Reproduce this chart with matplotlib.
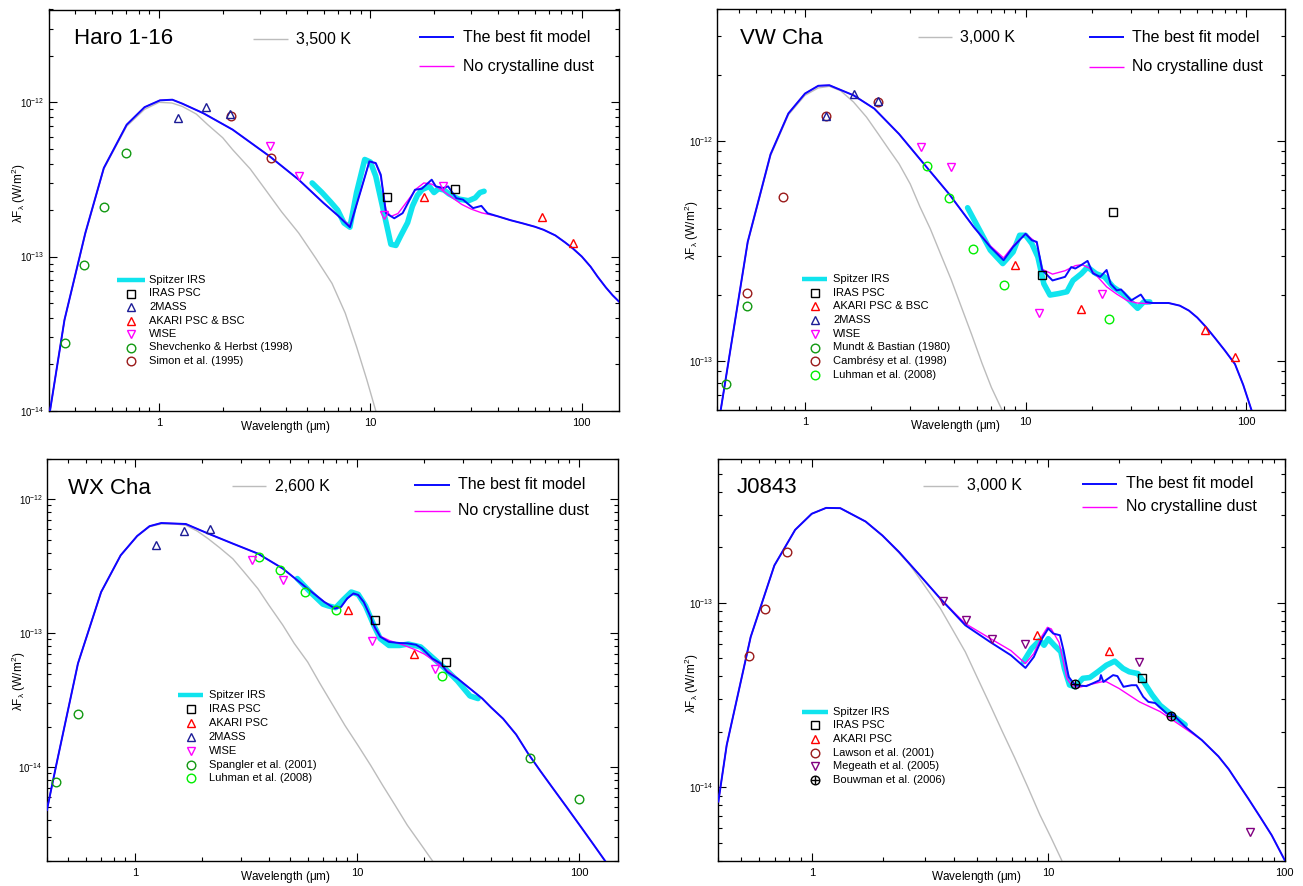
import numpy as np
import matplotlib
matplotlib.use('Agg')
import matplotlib.pyplot as plt
from matplotlib.lines import Line2D
from matplotlib.ticker import NullFormatter, FuncFormatter, LogFormatterSciNotation, FixedLocator, LogLocator

plt.rcParams['font.family'] = ['Liberation Sans', 'DejaVu Sans']
plt.rcParams['mathtext.fontset'] = 'custom'
plt.rcParams['mathtext.rm'] = 'Liberation Sans'
plt.rcParams['mathtext.it'] = 'Liberation Sans:italic'
plt.rcParams['mathtext.default'] = 'regular'

# ------------------------------------------------------------------ DATA
# ---- Haro 1-16 (flux in units of 1e-13 W/m^2)
haro_model_wl = [0.305, 0.357, 0.448, 0.548, 0.703, 0.854, 1.01, 1.156, 1.29, 1.62, 2.23, 3.34, 4.58, 6.01, 7.0, 8.0,
                 9.03, 9.89, 10.6, 11.2, 11.85, 12.97, 14.2, 16.25, 17.5, 19.5, 20.4, 22.1, 23.3, 25.5, 27.4, 30.6,
                 33.5, 35.8, 40.2, 46, 52.6, 60, 66, 75, 83, 90.6, 100, 110, 118.8, 130, 140, 150]
haro_model_f = [0.10, 0.388, 1.42, 3.75, 7.16, 9.3, 10.3, 10.4, 9.8, 8.5, 6.65, 4.46, 3.15, 2.22, 1.85, 1.55,
                2.71, 4.14, 4.04, 3.39, 1.91, 1.77, 1.91, 2.71, 2.75, 3.15, 2.85, 2.78, 2.85, 2.39, 2.34, 2.06,
                2.13, 1.91, 1.82, 1.72, 1.64, 1.56, 1.49, 1.37, 1.24, 1.13, 1.0, 0.86, 0.74, 0.63, 0.56, 0.51]
haro_nocryst_wl = [0.305, 0.357, 0.448, 0.548, 0.703, 0.854, 1.01, 1.156, 1.29, 1.62, 2.23, 3.34, 4.58, 6.01, 7.0,
                   8.0, 9.03, 9.89, 10.6, 11.2, 11.85, 12.5, 13.5, 15.0, 16.5, 17.9, 19.5, 21.0, 24.0, 27.0, 30.0,
                   33.6, 36.0, 40.2, 46, 52.6, 60, 66, 75, 83, 90.6, 100, 110, 118.8, 130, 140, 150]
haro_nocryst_f = [0.10, 0.388, 1.42, 3.75, 7.16, 9.3, 10.3, 10.4, 9.8, 8.5, 6.65, 4.46, 3.15, 2.22, 1.85,
                  1.58, 2.71, 4.14, 4.0, 3.3, 2.0, 1.82, 1.9, 2.3, 2.75, 3.0, 2.95, 2.79, 2.45, 2.18, 2.03,
                  1.92, 1.88, 1.82, 1.72, 1.64, 1.56, 1.49, 1.37, 1.24, 1.13, 1.0, 0.86, 0.74, 0.63, 0.56, 0.51]
haro_irs_wl = [5.3, 5.9, 6.5, 7.0, 7.5, 8.0, 8.6, 9.4, 10.0, 10.6, 11.4, 12.0, 12.5, 13.2, 13.9, 15.0, 15.8, 16.7,
               17.6, 19.0, 20.0, 21.0, 22.3, 23.5, 26.1, 29.1, 31.3, 33.0, 34.5]
haro_irs_f = [3.0, 2.6, 2.25, 2.0, 1.65, 1.55, 2.6, 4.26, 4.1, 3.32, 2.12, 1.55, 1.2, 1.18, 1.36, 1.66, 2.12, 2.5,
              2.72, 2.85, 2.6, 2.75, 2.7, 2.55, 2.36, 2.3, 2.4, 2.6, 2.65]
haro_bb_wl = [0.305, 0.357, 0.448, 0.548, 0.703, 0.854, 1.0, 1.15, 1.29, 1.5, 1.70, 2.0, 2.23, 2.7, 3.19, 3.8, 4.58,
              5.5, 6.58, 7.6, 8.6, 9.6, 10.6]
haro_bb_f = [0.10, 0.385, 1.40, 3.7, 7.0, 9.0, 10.0, 9.9, 9.4, 8.4, 7.16, 5.9, 4.93, 3.7, 2.71, 1.95, 1.42,
             0.98, 0.67, 0.43, 0.26, 0.16, 0.10]
haro_2mass_wl, haro_2mass_f = [1.236, 1.667, 2.176], [7.91, 9.33, 8.4]
haro_simon_wl, haro_simon_f = [2.19, 3.39], [8.2, 4.35]
haro_wise_wl, haro_wise_f = [3.36, 4.58, 11.58, 22.1], [5.18, 3.31, 1.87, 2.85]
haro_iras_wl, haro_iras_f = [12.0, 25.1], [2.45, 2.75]
haro_akari_wl, haro_akari_f = [17.9, 65.1, 90.5], [2.45, 1.8, 1.22]
haro_shev_wl, haro_shev_f = [0.36, 0.44, 0.551, 0.70], [0.274, 0.883, 2.09, 4.66]

# ---- VW Cha (units of 1e-13 W/m^2)
vw_model_wl = [0.415, 0.55, 0.698, 0.841, 1.0, 1.149, 1.29, 1.66, 2.06, 2.67, 3.46, 4.49, 5.82, 6.92, 7.95, 8.78,
               10.0, 10.67, 11.24, 11.89, 13.25, 15.1, 16.1, 16.8, 17.9, 19.1, 20.2, 21.8, 23.3, 24.3, 25.9, 27.1,
               30.1, 33.3, 35.1, 37.4, 44.5, 50, 55, 60, 65.8, 72, 80, 89, 97, 105.7]
vw_model_f = [0.60, 3.49, 8.73, 13.4, 16.5, 17.9, 18.0, 16.2, 14.1, 10.8, 7.9, 5.78, 4.08, 3.31, 2.88, 3.31,
              3.8, 3.55, 3.49, 2.6, 2.33, 2.42, 2.68, 2.64, 2.74, 2.86, 2.51, 2.42, 2.60, 2.25, 2.1, 2.12,
              1.89, 2.01, 1.86, 1.84, 1.84, 1.79, 1.70, 1.58, 1.43, 1.28, 1.12, 0.97, 0.78, 0.60]
vw_nocryst_wl = [0.415, 0.55, 0.698, 0.841, 1.0, 1.149, 1.29, 1.66, 2.06, 2.67, 3.46, 4.49, 5.82, 6.92, 7.95, 8.78,
                 10.0, 10.67, 11.24, 11.89, 13.25, 15.1, 16.8, 18.0, 19.5, 21.0, 23.3, 25.9, 28.8, 32.0, 35.6, 37.4,
                 44.5, 50, 55, 60, 65.8, 72, 80, 89, 97, 105.7]
vw_nocryst_f = [0.60, 3.49, 8.73, 13.4, 16.5, 17.9, 18.0, 16.2, 14.1, 10.8, 7.9, 5.78, 4.08, 3.35, 2.95, 3.35,
                3.8, 3.6, 3.45, 2.62, 2.49, 2.58, 2.72, 2.75, 2.65, 2.45, 2.18, 2.02, 1.89, 1.84, 1.83, 1.84,
                1.84, 1.79, 1.70, 1.58, 1.43, 1.28, 1.12, 0.97, 0.78, 0.60]
vw_irs_wl = [5.46, 6.08, 6.92, 7.88, 8.78, 9.4, 10.0, 10.67, 11.37, 12.1, 12.9, 14.1, 15.4, 16.4, 17.9, 19.1, 20.9,
             22.8, 24.9, 27.6, 30.1, 32.2, 34.3, 36.6]
vw_irs_f = [4.99, 4.08, 3.2, 2.78, 3.14, 3.74, 3.74, 3.43, 2.98, 2.25, 2.0, 2.03, 2.07, 2.33, 2.5, 2.68, 2.5,
            2.42, 2.18, 2.03, 1.86, 1.74, 1.86, 1.86]
vw_bb_wl = [0.415, 0.55, 0.698, 0.841, 1.0, 1.149, 1.29, 1.45, 1.66, 1.9, 2.15, 2.4, 2.67, 3.0, 3.32, 3.7, 4.11,
            4.6, 5.11, 5.7, 6.35, 7.0, 7.82]
vw_bb_f = [0.60, 3.45, 8.6, 13.2, 16.2, 17.5, 17.8, 17.0, 15.1, 12.9, 10.8, 9.2, 7.9, 6.4, 5.04, 4.0, 3.09,
           2.35, 1.77, 1.32, 0.977, 0.76, 0.60]
vw_2mass_wl, vw_2mass_f = [1.24, 1.66, 2.15], [13.0, 16.4, 15.3]
vw_cambresy_wl, vw_cambresy_f = [0.548, 0.795, 1.25, 2.15], [2.05, 5.58, 13.1, 15.1]
vw_mundt_wl, vw_mundt_f = [0.438, 0.548], [0.785, 1.79]
vw_luhman_wl, vw_luhman_f = [3.58, 4.49, 5.77, 7.95, 23.9], [7.73, 5.55, 3.23, 2.23, 1.56]
vw_wise_wl, vw_wise_f = [3.34, 4.61, 11.5, 22.1], [9.42, 7.64, 1.66, 2.03]
vw_akari_wl, vw_akari_f = [8.97, 17.9, 64.9, 89.0], [2.73, 1.72, 1.39, 1.04]
vw_iras_wl, vw_iras_f = [11.9, 24.9], [2.48, 4.77]

# ---- WX Cha (units of 1e-13 W/m^2)
wx_model_wl = [0.40, 0.441, 0.552, 0.702, 0.86, 1.02, 1.16, 1.31, 1.69, 2.13, 2.75, 3.57, 4.62, 5.98, 7.11, 7.93,
               8.45, 9.02, 9.62, 10.1, 10.7, 11.4, 12.0, 12.7, 13.9, 15.5, 16.8, 18.4, 19.6, 21.8, 23.8, 25.4,
               28.3, 32.2, 36.6, 40, 45.4, 52, 58.9, 67, 76.2, 88, 103, 116, 130.6]
wx_model_f = [0.0478, 0.104, 0.594, 2.03, 3.82, 5.32, 6.3, 6.65, 6.54, 5.55, 4.67, 3.93, 3.04, 2.15, 1.71, 1.53,
              1.57, 1.82, 1.98, 1.93, 1.71, 1.36, 1.11, 0.94, 0.861, 0.845, 0.84, 0.82, 0.77, 0.647, 0.594, 0.514,
              0.459, 0.386, 0.325, 0.28, 0.23, 0.175, 0.126, 0.093, 0.0693, 0.050, 0.0348, 0.0264, 0.020]
wx_nocryst_wl = [0.40, 0.441, 0.552, 0.702, 0.86, 1.02, 1.16, 1.31, 1.69, 2.13, 2.75, 3.57, 4.62, 5.98, 7.11, 7.93,
                 8.45, 9.02, 9.62, 10.1, 10.7, 11.4, 12.0, 12.7, 14.0, 16.0, 18.0, 20.0, 22.0, 25.0, 28.3, 32.2,
                 36.6, 40, 45.4, 52, 58.9, 67, 76.2, 88, 103, 116, 130.6]
wx_nocryst_f = [0.0478, 0.104, 0.594, 2.03, 3.82, 5.32, 6.3, 6.65, 6.54, 5.55, 4.67, 3.93, 3.04, 2.15, 1.71, 1.53,
                1.57, 1.82, 1.98, 1.93, 1.71, 1.36, 1.08, 0.95, 0.88, 0.82, 0.76, 0.70, 0.63, 0.54, 0.46, 0.386,
                0.325, 0.28, 0.23, 0.175, 0.126, 0.093, 0.0693, 0.050, 0.0348, 0.0264, 0.020]
wx_irs_wl = [5.37, 6.2, 7.0, 7.4, 8.0, 8.6, 9.4, 10.1, 10.9, 11.9, 12.7, 13.9, 15.5, 17.0, 19.3, 21.8, 25.0, 28.3,
             32.2, 35.0]
wx_irs_f = [2.56, 2.0, 1.65, 1.6, 1.55, 1.76, 2.03, 1.95, 1.6, 1.14, 0.91, 0.81, 0.81, 0.83, 0.79, 0.66, 0.54, 0.44,
            0.34, 0.325]
wx_bb_wl = [0.40, 0.441, 0.552, 0.702, 0.86, 1.02, 1.16, 1.31, 1.5, 1.69, 1.9, 2.13, 2.4, 2.75, 3.1, 3.57, 4.0,
            4.62, 5.2, 5.98, 6.8, 7.77, 8.8, 10.06, 11.5, 13.0, 14.8, 16.8, 19.2, 21.8]
wx_bb_f = [0.0478, 0.104, 0.594, 2.03, 3.82, 5.3, 6.25, 6.55, 6.55, 6.4, 5.8, 5.08, 4.35, 3.6, 2.85, 2.15, 1.62,
           1.15, 0.84, 0.61, 0.42, 0.29, 0.205, 0.146, 0.103, 0.0734, 0.052, 0.0369, 0.027, 0.020]
wx_2mass_wl, wx_2mass_f = [1.235, 1.66, 2.17], [4.54, 5.77, 6.04]
wx_wise_wl, wx_wise_f = [3.35, 4.62, 11.7, 22.3], [3.51, 2.49, 0.877, 0.545]
wx_luhman_wl, wx_luhman_f = [3.6, 4.49, 5.81, 8.0, 24.0], [3.71, 2.98, 2.03, 1.49, 0.481]
wx_spangler_wl, wx_spangler_f = [0.441, 0.552, 60.1, 100], [0.0769, 0.25, 0.116, 0.0577]
wx_akari_wl, wx_akari_f = [9.06, 18.1], [1.49, 0.705]
wx_iras_wl, wx_iras_f = [12.0, 25.0], [1.25, 0.61]

# ---- J0843 (units of 1e-14 W/m^2)
j_model_wl = [0.403, 0.437, 0.552, 0.695, 0.851, 1.0, 1.15, 1.32, 1.69, 1.99, 2.34, 2.86, 3.50, 4.46, 5.68, 6.95,
              8.01, 8.69, 9.41, 10.0, 10.5, 11.2, 11.6, 12.2, 13.0, 14.5, 16.5, 16.7, 17.1, 18.8, 19.6, 20.8,
              22.5, 23.6, 25.2, 26.5, 28.3, 31.7, 33.8, 37.9, 44.6, 52.4, 58, 64.1, 70, 78.5, 88, 100]
j_model_f = [0.837, 1.69, 6.52, 15.9, 24.8, 30.3, 32.6, 32.5, 27.5, 23.1, 18.8, 14.1, 10.5, 7.54, 6.12, 5.19,
             4.43, 5.08, 6.38, 7.24, 6.8, 6.66, 5.52, 3.96, 3.57, 3.53, 3.8, 4.05, 3.72, 4.05, 4.0, 3.5,
             3.57, 3.57, 3.09, 2.9, 2.86, 2.51, 2.47, 2.13, 1.8, 1.47, 1.25, 1.03, 0.87, 0.693, 0.55, 0.402]
j_nocryst_wl = [0.403, 0.437, 0.552, 0.695, 0.851, 1.0, 1.15, 1.32, 1.69, 1.99, 2.34, 2.86, 3.50, 4.46, 5.68, 6.95,
                8.01, 8.69, 9.41, 9.92, 10.3, 11.1, 11.5, 12.0, 12.5, 13.3, 15.0, 16.9, 17.6, 19.9, 24.3, 29.7,
                37.9, 44.6, 52.4, 58, 64.1, 70, 78.5, 88, 100]
j_nocryst_f = [0.837, 1.69, 6.52, 15.9, 24.8, 30.3, 32.6, 32.5, 27.5, 23.1, 18.8, 14.1, 10.5, 7.7, 6.4, 5.5,
               4.68, 5.3, 6.6, 7.35, 7.2, 6.1, 5.0, 3.88, 3.6, 3.46, 3.6, 3.73, 3.73, 3.43, 2.9, 2.57,
               2.08, 1.8, 1.47, 1.25, 1.03, 0.87, 0.693, 0.55, 0.402]
j_irs_wl = [7.85, 8.5, 9.2, 9.6, 10.0, 10.6, 11.3, 11.7, 12.3, 13.0, 14.0, 15.0, 16.2, 17.6, 19.1, 20.7, 22.0, 23.9,
            25.3, 27.5, 29.7, 33.4, 37.9]
j_irs_f = [4.78, 5.64, 6.25, 5.88, 6.38, 5.88, 5.42, 4.4, 3.58, 3.5, 3.89, 3.93, 4.22, 4.58, 4.82, 4.4, 4.22, 4.13,
           3.73, 3.16, 2.78, 2.46, 2.18]
j_bb_wl = [0.403, 0.437, 0.552, 0.695, 0.851, 1.0, 1.15, 1.32, 1.69, 1.99, 2.34, 2.6, 2.86, 3.15, 3.5, 3.95, 4.46,
           5.0, 5.68, 6.4, 7.22, 8.2, 9.22, 10.3, 11.4]
j_bb_f = [0.837, 1.69, 6.52, 15.9, 24.8, 30.3, 32.6, 32.5, 27.5, 23.1, 18.6, 16.0, 13.5, 11.3, 9.29, 7.1, 5.41,
          3.95, 2.79, 2.0, 1.44, 1.0, 0.708, 0.53, 0.402]
j_lawson_wl, j_lawson_f = [0.545, 0.637, 0.785], [5.13, 9.29, 18.9]
j_megeath_wl, j_megeath_f = [3.6, 4.5, 5.8, 8.0, 24.1, 71.5], [10.2, 8.09, 6.34, 5.96, 4.74, 0.571]
j_akari_wl, j_akari_f = [8.97, 18.0], [6.71, 5.46]
j_iras_wl, j_iras_f = [25.0], [3.92]
j_bouwman_wl, j_bouwman_f = [13.0, 32.9], [3.62, 2.44]

# ------------------------------------------------------------------ STYLE
BLUE = '#0a0aff'
MAG = '#ff00ff'
CYAN = '#10e4ee'
GRAY = '#bcbcbc'
NAVY = '#1c1c96'
RED = '#ff0000'
GREEN = '#119911'
DKRED = '#9a1a1a'
LIME = '#00ee00'
PURPLE = '#800080'
BLACK = '#000000'

MK = {
    'IRAS': dict(marker='s', color=BLACK),
    '2MASS': dict(marker='^', color=NAVY),
    'AKARI': dict(marker='^', color=RED),
    'WISE': dict(marker='v', color=MAG),
    'GREEN': dict(marker='o', color=GREEN),
    'DKRED': dict(marker='o', color=DKRED),
    'LIME': dict(marker='o', color=LIME),
    'MEGEATH': dict(marker='v', color=PURPLE),
    'BOUWMAN': dict(marker='o', color=BLACK),
}

W, H = 1303, 886
fig = plt.figure(figsize=(W / 100, H / 100), dpi=100)


def fx(x):
    return x / W


def fy(y):
    return 1 - y / H


def add_ax(l, r, t, b):
    return fig.add_axes([fx(l), fy(b), (r - l) / W, (b - t) / H])


def markers(ax, wl, f, scale, kind):
    st = MK[kind]
    ax.plot(np.array(wl), np.array(f) * scale, linestyle='none', marker=st['marker'], ms=6.2,
            mfc='none', mec=st['color'], mew=1.0, zorder=6, clip_on=False)
    if kind == 'BOUWMAN':
        ax.plot(np.array(wl), np.array(f) * scale, linestyle='none', marker='+', ms=6.2,
                mec=BLACK, mew=1.0, zorder=6)


def key_marker(x, y, kind):
    st = MK[kind]
    fig.add_artist(Line2D([fx(x)], [fy(y)], transform=fig.transFigure, linestyle='none',
                          marker=st['marker'], ms=6.2, mfc='none', mec=st['color'], mew=1.0))
    if kind == 'BOUWMAN':
        fig.add_artist(Line2D([fx(x)], [fy(y)], transform=fig.transFigure, linestyle='none',
                              marker='+', ms=6.2, mec=BLACK, mew=1.0))


def key_line(x0, x1, y, color, lw):
    fig.add_artist(Line2D([fx(x0), fx(x1)], [fy(y), fy(y)], transform=fig.transFigure,
                          color=color, lw=lw, solid_capstyle='butt'))


panels = [
    dict(box=(48.5, 619, 9.5, 410.7), xlim=(0.30, 150), ylim=(1e-14, 4e-12), scale=1e-13,
         xt=[1, 10, 100], yt=[1e-14, 1e-13, 1e-12],
         model=(haro_model_wl, haro_model_f), nocryst=(haro_nocryst_wl, haro_nocryst_f),
         irs=(haro_irs_wl, haro_irs_f), bb=(haro_bb_wl, haro_bb_f),
         pts=[(haro_shev_wl, haro_shev_f, 'GREEN'), (haro_simon_wl, haro_simon_f, 'DKRED'),
              (haro_2mass_wl, haro_2mass_f, '2MASS'), (haro_wise_wl, haro_wise_f, 'WISE'),
              (haro_akari_wl, haro_akari_f, 'AKARI'), (haro_iras_wl, haro_iras_f, 'IRAS')],
         title='Haro 1-16', title_xy=(74, 38), temp='3,500 K',
         gray_key=(253, 288, 39, 296), blue_key=(419, 454, 37, 463), mag_y=66,
         key=(117, 145, 131, 149, 280, 13.5),
         key_entries=[('IRAS PSC', 'IRAS'), ('2MASS', '2MASS'), ('AKARI PSC & BSC', 'AKARI'),
                      ('WISE', 'WISE'), ('Shevchenko & Herbst (1998)', 'GREEN'), ('Simon et al. (1995)', 'DKRED')],
         xlab=(0.415, -0.041), ylab=(-0.052, 0.542)),
    dict(box=(717.2, 1285, 9, 410), xlim=(0.40, 150), ylim=(6e-14, 4e-12), scale=1e-13,
         xt=[1, 10, 100], yt=[1e-13, 1e-12],
         model=(vw_model_wl, vw_model_f), nocryst=(vw_nocryst_wl, vw_nocryst_f),
         irs=(vw_irs_wl, vw_irs_f), bb=(vw_bb_wl, vw_bb_f),
         pts=[(vw_mundt_wl, vw_mundt_f, 'GREEN'), (vw_cambresy_wl, vw_cambresy_f, 'DKRED'),
              (vw_luhman_wl, vw_luhman_f, 'LIME'), (vw_2mass_wl, vw_2mass_f, '2MASS'),
              (vw_wise_wl, vw_wise_f, 'WISE'), (vw_akari_wl, vw_akari_f, 'AKARI'), (vw_iras_wl, vw_iras_f, 'IRAS')],
         title='VW Cha', title_xy=(740, 38), temp='3,000 K',
         gray_key=(918, 952, 37, 960), blue_key=(1089, 1124, 37.3, 1132), mag_y=66.5,
         key=(802, 827, 815, 833, 279, 13.7),
         key_entries=[('IRAS PSC', 'IRAS'), ('AKARI PSC & BSC', 'AKARI'), ('2MASS', '2MASS'), ('WISE', 'WISE'),
                      ('Mundt & Bastian (1980)', 'GREEN'), ('Cambrésy et al. (1998)', 'DKRED'),
                      ('Luhman et al. (2008)', 'LIME')],
         xlab=(0.42, -0.041), ylab=(-0.045, 0.449)),
    dict(box=(46.9, 618.3, 459, 860.7), xlim=(0.40, 150), ylim=(2e-15, 2e-12), scale=1e-13,
         xt=[1, 10, 100], yt=[1e-14, 1e-13, 1e-12],
         model=(wx_model_wl, wx_model_f), nocryst=(wx_nocryst_wl, wx_nocryst_f),
         irs=(wx_irs_wl, wx_irs_f), bb=(wx_bb_wl, wx_bb_f),
         pts=[(wx_spangler_wl, wx_spangler_f, 'GREEN'), (wx_luhman_wl, wx_luhman_f, 'LIME'),
              (wx_2mass_wl, wx_2mass_f, '2MASS'), (wx_wise_wl, wx_wise_f, 'WISE'),
              (wx_akari_wl, wx_akari_f, 'AKARI'), (wx_iras_wl, wx_iras_f, 'IRAS')],
         title='WX Cha', title_xy=(68, 488), temp='2,600 K',
         gray_key=(232, 266, 486.3, 275), blue_key=(414, 450, 485, 458.5), mag_y=510.7,
         key=(177.6, 203.3, 190.5, 208.7, 695, 13.9),
         key_entries=[('IRAS PSC', 'IRAS'), ('AKARI PSC', 'AKARI'), ('2MASS', '2MASS'), ('WISE', 'WISE'),
                      ('Spangler et al. (2001)', 'GREEN'), ('Luhman et al. (2008)', 'LIME')],
         xlab=(0.417, -0.041), ylab=(-0.049, 0.446)),
    dict(box=(717.6, 1284.8, 459, 860.7), xlim=(0.40, 100), ylim=(4e-15, 6e-13), scale=1e-14,
         xt=[1, 10, 100], yt=[1e-14, 1e-13],
         model=(j_model_wl, j_model_f), nocryst=(j_nocryst_wl, j_nocryst_f),
         irs=(j_irs_wl, j_irs_f), bb=(j_bb_wl, j_bb_f),
         pts=[(j_lawson_wl, j_lawson_f, 'DKRED'), (j_megeath_wl, j_megeath_f, 'MEGEATH'),
              (j_akari_wl, j_akari_f, 'AKARI'), (j_iras_wl, j_iras_f, 'IRAS'),
              (j_bouwman_wl, j_bouwman_f, 'BOUWMAN')],
         title='J0843', title_xy=(737, 487), temp='3,000 K',
         gray_key=(923, 958, 485.7, 967), blue_key=(1081.5, 1117, 484, 1126), mag_y=506.7,
         key=(802, 827.6, 815, 833, 711.7, 13.67),
         key_entries=[('IRAS PSC', 'IRAS'), ('AKARI PSC', 'AKARI'), ('Lawson et al. (2001)', 'DKRED'),
                      ('Megeath et al. (2005)', 'MEGEATH'), ('Bouwman et al. (2006)', 'BOUWMAN')],
         xlab=(0.456, -0.041), ylab=(-0.046, 0.442)),
]

for p in panels:
    l, r, t, b = p['box']
    ax = add_ax(l, r, t, b)
    ax.set_xscale('log')
    ax.set_yscale('log')
    s = p['scale']
    ax.plot(p['bb'][0], np.array(p['bb'][1]) * s, color=GRAY, lw=1.0, zorder=1.5)
    ax.plot(p['irs'][0], np.array(p['irs'][1]) * s, color=CYAN, lw=4.0, zorder=2,
            solid_capstyle='round', solid_joinstyle='round')
    ax.plot(p['nocryst'][0], np.array(p['nocryst'][1]) * s, color=MAG, lw=1.0, zorder=3)
    ax.plot(p['model'][0], np.array(p['model'][1]) * s, color=BLUE, lw=1.4, zorder=4)
    for wl, f, kind in p['pts']:
        markers(ax, wl, f, s, kind)
    ax.set_xlim(*p['xlim'])
    ax.set_ylim(*p['ylim'])

    ax.xaxis.set_major_locator(FixedLocator(p['xt']))
    ax.yaxis.set_major_locator(FixedLocator(p['yt']))
    ax.xaxis.set_minor_locator(LogLocator(base=10, subs=np.arange(2, 10), numticks=20))
    ax.yaxis.set_minor_locator(LogLocator(base=10, subs=np.arange(2, 10), numticks=20))
    ax.tick_params(which='both', direction='in', top=True, right=True, width=0.8)
    ax.tick_params(which='major', length=5.5)
    ax.tick_params(which='minor', length=3.2)
    ax.tick_params(axis='x', labelsize=8, pad=5)
    ax.tick_params(axis='y', labelsize=7, pad=3)
    ax.xaxis.set_major_formatter(FuncFormatter(lambda v, pos: f'{v:g}'))
    ax.xaxis.set_minor_formatter(NullFormatter())
    ax.yaxis.set_major_formatter(LogFormatterSciNotation())
    ax.yaxis.set_minor_formatter(NullFormatter())
    for sp in ax.spines.values():
        sp.set_linewidth(1.0)

    ax.set_xlabel(r'Wavelength ($\mu$m)', fontsize=8.5, va='center')
    ax.xaxis.set_label_coords(*p['xlab'])
    ax.set_ylabel(r'$\lambda$F$_{\lambda}$ (W/m$^2$)', fontsize=8.5, va='center', ha='center')
    ax.yaxis.set_label_coords(*p['ylab'])

    # title and upper key
    fig.text(fx(p['title_xy'][0]), fy(p['title_xy'][1]), p['title'], fontsize=16, va='center', ha='left')
    gx0, gx1, gy, gtx = p['gray_key']
    key_line(gx0, gx1, gy, GRAY, 1.0)
    fig.text(fx(gtx), fy(gy), p['temp'], fontsize=11.5, va='center', ha='left')
    bx0, bx1, by, btx = p['blue_key']
    key_line(bx0, bx1, by, BLUE, 1.4)
    fig.text(fx(btx), fy(by), 'The best fit model', fontsize=11.5, va='center', ha='left')
    key_line(bx0, bx1, p['mag_y'], MAG, 1.0)
    fig.text(fx(btx), fy(p['mag_y']), 'No crystalline dust', fontsize=11.5, va='center', ha='left')

    # lower-left key
    kx0, kx1, kmx, ktx, ky0, kdy = p['key']
    key_line(kx0, kx1, ky0, CYAN, 3.2)
    fig.text(fx(ktx), fy(ky0), 'Spitzer IRS', fontsize=8, va='center', ha='left')
    for i, (label, kind) in enumerate(p['key_entries']):
        y = ky0 + (i + 1) * kdy
        key_marker(kmx, y, kind)
        fig.text(fx(ktx), fy(y), label, fontsize=8, va='center', ha='left')

fig.savefig('out.png', dpi=100)
